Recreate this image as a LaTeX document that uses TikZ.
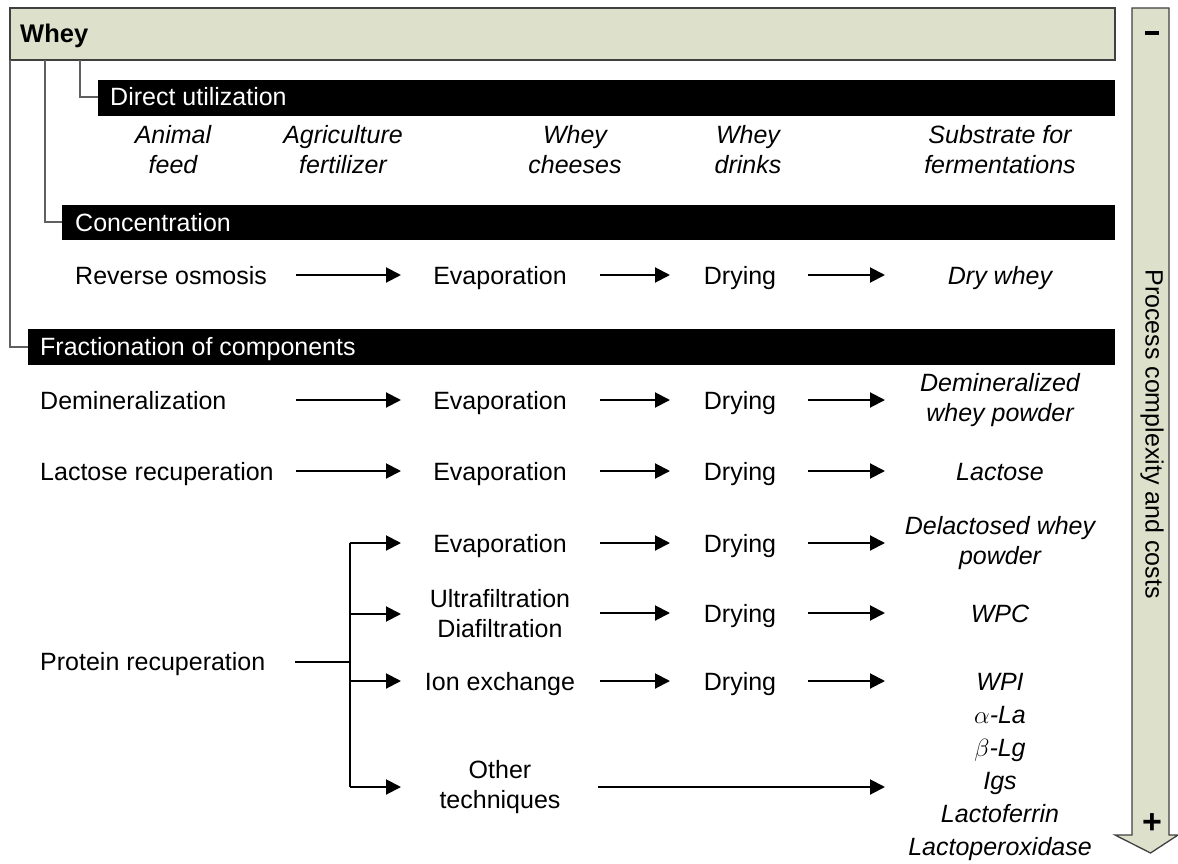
\documentclass[tikz,border=0pt]{standalone}
\usepackage{fontspec}
\setmainfont{Liberation Sans}
\usetikzlibrary{arrows.meta}
\definecolor{wheyfill}{HTML}{DDE1CB}
\definecolor{wheyedge}{HTML}{404040}
\definecolor{treeline}{HTML}{606060}
\begin{document}
\begin{tikzpicture}[x=1pt,y=-1pt,
  txt/.style={font=\fontsize{25}{30}\selectfont, inner sep=0pt, align=center},
  one/.style={txt, text height=18pt, text depth=0pt},
  lbl/.style={one, anchor=west},
  outp/.style={txt, font=\fontsize{25}{30}\selectfont\itshape},
  outone/.style={one, font=\fontsize{25}{30}\selectfont\itshape},
  bartxt/.style={lbl, text=white},
  blackbar/.style={fill=black},
  flow/.style={-{Triangle[length=15pt,width=15pt]}, line width=2pt, black},
  branch/.style={line width=2pt, black},
  tree/.style={draw=treeline, line width=1.3pt},
  wheybox/.style={fill=wheyfill, draw=wheyedge, line width=1.3pt}]
\useasboundingbox (0,0) rectangle (1178,864);

% top Whey bar
\draw[wheybox] (10,8) rectangle (1115,60);
\node[lbl, font=\fontsize{25.5}{30}\selectfont\bfseries] (whey) at (20,34) {Whey};

% right arrow
\draw[wheybox] (1132,8) -- (1169,8) -- (1169,835) -- (1178,835) -- (1150.5,853) -- (1115,835) -- (1132,835) -- cycle;
\fill[black] (1145,31) rectangle (1159,35.5);
\node[txt, font=\fontsize{34}{34}\selectfont\bfseries] (plus) at (1152,824) {+};
\node[txt, rotate=-90] (pcc) at (1152,434) {Process complexity and costs};

% tree lines
\coordinate (t1) at (10,60);
\coordinate (t2) at (45,60);
\coordinate (t3) at (80,60);
\draw[tree] (t1) |- (28,347);
\draw[tree] (t2) |- (62,222);
\draw[tree] (t3) |- (98,97);

% black bars
\fill[blackbar] (98,80) rectangle (1115,116);
\node[bartxt] (du) at (110,97) {Direct utilization};
\fill[blackbar] (62,205) rectangle (1115,240);
\node[bartxt] (conc) at (75,222) {Concentration};
\fill[blackbar] (28,329) rectangle (1115,365);
\node[bartxt] (frac) at (40,346) {Fractionation of components};

% direct utilization items
\node[outp] (feed) at (173,150) {Animal\\feed};
\node[outp] (fert) at (343,150) {Agriculture\\fertilizer};
\node[outp] (chz) at (575,150) {Whey\\cheeses};
\node[outp] (drk) at (748,150) {Whey\\drinks};
\node[outp] (sub) at (1000,150) {Substrate for\\fermentations};

% concentration row
\node[lbl] (ro) at (75,275) {Reverse osmosis};
\node[one] (ev1) at (500,275) {Evaporation};
\node[one] (dr1) at (740,275) {Drying};
\node[outone] (dw) at (1000,275) {Dry whey};
\coordinate (a1s) at (296,275); \coordinate (a1e) at (401,275);
\coordinate (a2s) at (600,275); \coordinate (a2e) at (670,275);
\coordinate (a3s) at (808,275); \coordinate (a3e) at (885,275);
\draw[flow] (a1s) -- (a1e);
\draw[flow] (a2s) -- (a2e);
\draw[flow] (a3s) -- (a3e);

% demineralization row
\node[lbl] (dem) at (40,400) {Demineralization};
\node[one] (ev2) at (500,400) {Evaporation};
\node[one] (dr2) at (740,400) {Drying};
\node[outp] (dwp) at (1000,400) {Demineralized\\whey powder};
\coordinate (b1s) at (296,400); \coordinate (b1e) at (401,400);
\coordinate (b2s) at (600,400); \coordinate (b2e) at (670,400);
\coordinate (b3s) at (808,400); \coordinate (b3e) at (885,400);
\draw[flow] (b1s) -- (b1e);
\draw[flow] (b2s) -- (b2e);
\draw[flow] (b3s) -- (b3e);

% lactose row
\node[lbl] (lac) at (40,471) {Lactose recuperation};
\node[one] (ev3) at (500,471) {Evaporation};
\node[one] (dr3) at (740,471) {Drying};
\node[outone] (lact) at (1000,471) {Lactose};
\coordinate (c1s) at (296,471); \coordinate (c1e) at (401,471);
\coordinate (c2s) at (600,471); \coordinate (c2e) at (670,471);
\coordinate (c3s) at (808,471); \coordinate (c3e) at (885,471);
\draw[flow] (c1s) -- (c1e);
\draw[flow] (c2s) -- (c2e);
\draw[flow] (c3s) -- (c3e);

% protein recuperation
\node[lbl] (prot) at (40,661) {Protein recuperation};
\coordinate (ps) at (295,662);
\coordinate (pj) at (350,662);
\coordinate (ptop) at (350,543);
\coordinate (pbot) at (350,787);
\draw[branch] (ps) -- (pj);
\draw[branch] (ptop) -- (pbot);

% evaporation branch
\node[one] (ev4) at (500,543) {Evaporation};
\node[one] (dr4) at (740,543) {Drying};
\node[outp] (dlp) at (1000,543) {Delactosed whey\\powder};
\coordinate (d1e) at (401,543);
\coordinate (d2s) at (600,543); \coordinate (d2e) at (670,543);
\coordinate (d3s) at (808,543); \coordinate (d3e) at (885,543);
\draw[flow] (ptop) -- (d1e);
\draw[flow] (d2s) -- (d2e);
\draw[flow] (d3s) -- (d3e);

% UF branch
\node[txt] (uf) at (500,614) {Ultrafiltration\\Diafiltration};
\node[one] (dr5) at (740,613) {Drying};
\node[outone] (wpc) at (1000,613) {WPC};
\coordinate (e0) at (350,614); \coordinate (e1e) at (401,614);
\coordinate (e2s) at (600,613); \coordinate (e2e) at (670,613);
\coordinate (e3s) at (808,613); \coordinate (e3e) at (885,613);
\draw[flow] (e0) -- (e1e);
\draw[flow] (e2s) -- (e2e);
\draw[flow] (e3s) -- (e3e);

% ion exchange branch
\node[one] (ion) at (500,681) {Ion exchange};
\node[one] (dr6) at (740,681) {Drying};
\node[outone] (wpi) at (1000,681) {WPI};
\coordinate (f0) at (350,681); \coordinate (f1e) at (401,681);
\coordinate (f2s) at (600,681); \coordinate (f2e) at (670,681);
\coordinate (f3s) at (808,681); \coordinate (f3e) at (885,681);
\draw[flow] (f0) -- (f1e);
\draw[flow] (f2s) -- (f2e);
\draw[flow] (f3s) -- (f3e);

% other techniques
\node[txt] (oth) at (500,787) {Other\\techniques};
\node[outp, font=\fontsize{25}{33}\selectfont\itshape] (lst) at (1000,783) {$\alpha$-La\\$\beta$-Lg\\Igs\\Lactoferrin\\Lactoperoxidase};
\coordinate (g1e) at (401,787);
\coordinate (g2s) at (598,787); \coordinate (g2e) at (885,787);
\draw[flow] (pbot) -- (g1e);
\draw[flow] (g2s) -- (g2e);
\end{tikzpicture}
\end{document}
